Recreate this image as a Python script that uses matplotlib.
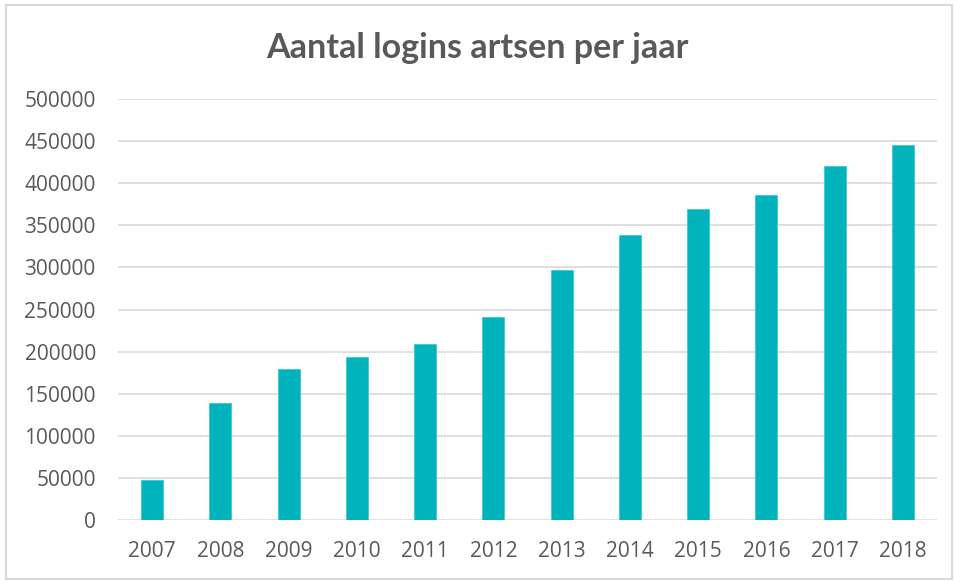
import matplotlib
matplotlib.use('Agg')
import matplotlib.pyplot as plt
from matplotlib.patches import Rectangle

# data
years = ['2007', '2008', '2009', '2010', '2011', '2012',
         '2013', '2014', '2015', '2016', '2017', '2018']
logins = [47500, 138600, 179300, 193200, 209400, 241000,
          297300, 338500, 369400, 385600, 420900, 445500]
yticks = list(range(0, 500001, 50000))

bar_color = '#00B3BC'
grid_color = '#D9D9D9'
text_color = '#595959'

fig = plt.figure(figsize=(9.55, 5.81), dpi=100)
ax = fig.add_axes([118/955, 1 - 520/581, (937 - 118)/955, (520 - 99)/581])

x = list(range(len(years)))
ax.bar(x, logins, width=0.32, color=bar_color, edgecolor='#3CCAD2',
       linewidth=0.6, zorder=3)

ax.set_xlim(-0.5, len(years) - 0.5)
ax.set_ylim(0, 500000)
ax.set_yticks(yticks)
ax.set_yticklabels([str(v) for v in yticks])
ax.set_xticks(x)
ax.set_xticklabels(years)
ax.grid(axis='y', color=grid_color, linewidth=1.2, zorder=0)
ax.set_axisbelow(True)
for s in ax.spines.values():
    s.set_visible(False)
ax.tick_params(axis='both', length=0, colors=text_color, labelsize=15)
ax.tick_params(axis='y', pad=16)
ax.tick_params(axis='x', pad=15)
for lab in ax.get_xticklabels() + ax.get_yticklabels():
    lab.set_family('Open Sans')

fig.text(0.5, 1 - 48/581, 'Aantal logins artsen per jaar', ha='center',
         va='center', fontsize=24.5, fontweight='bold', color=text_color,
         family='Lato')

# outer chart frame
fig.patches.append(Rectangle((6/955, 2/581), 946/955, 574/581,
                             transform=fig.transFigure, fill=False,
                             edgecolor=grid_color, linewidth=1.5))

fig.savefig('out.png', dpi=100)
